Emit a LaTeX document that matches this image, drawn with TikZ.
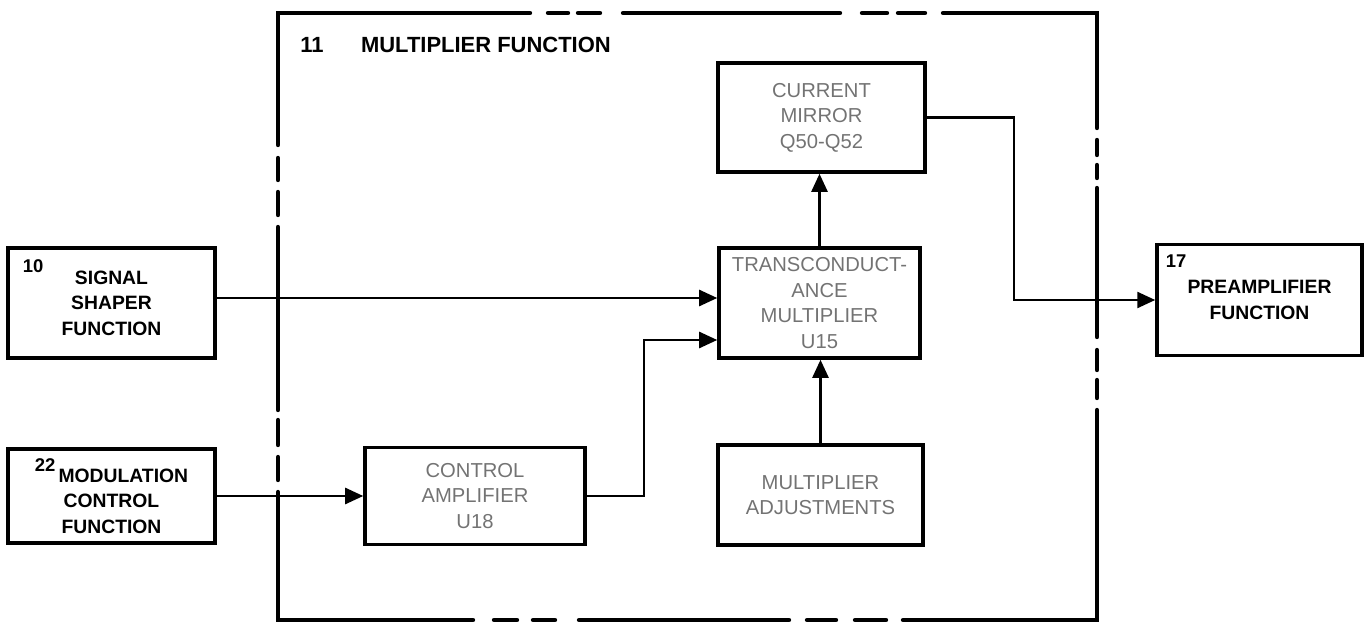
\documentclass[tikz,border=0pt]{standalone}
\usepackage{fontspec}
\setmainfont{Liberation Sans}
\usepackage{tikz}
\usetikzlibrary{arrows.meta}

\begin{document}
\begin{tikzpicture}[x=0.2mm,y=-0.2mm,>={Triangle[length=3.6mm,width=3.2mm]},
  outerbox/.style={rectangle,draw=black,line width=2pt,align=center,inner sep=0pt,font=\fontsize{11}{14.5}\selectfont\bfseries},
  innerbox/.style={rectangle,draw=black,line width=2pt,align=center,inner sep=0pt,text=black!55,font=\fontsize{11.5}{14.5}\selectfont},
  numlbl/.style={inner sep=0pt,font=\fontsize{10.5}{12}\selectfont\bfseries},
  conn/.style={->,line width=1.4pt},
  frame/.style={line width=2.5pt,line cap=round}]
\useasboundingbox (0,0) rectangle (1368,627);

% multiplier function frame
\draw[frame] (278,145) |- (530,13);
\draw[frame] (623,13) -- (840,13);
\draw[frame] (943,13) -| (1097,128);
\draw[frame] (1097,188) -- (1097,337);
\draw[frame] (1097,410) |- (903,620);
\draw[frame] (789,620) -- (579,620);
\draw[frame] (473,620) -| (278,492);
\draw[frame] (278,410) -- (278,227);
\foreach \a/\b in {548/568,578/600,862/887,898/925} \draw[frame] (\a,13) -- (\b,13);
\foreach \a/\b in {140/155,165/178,350/370,380/398} \draw[frame] (1097,\a) -- (1097,\b);
\foreach \a/\b in {886/855,836/807,555/533,517/494} \draw[frame] (\a,620) -- (\b,620);
\foreach \a/\b in {480/457,445/420,215/192,180/158} \draw[frame] (278,\a) -- (278,\b);
\node[anchor=west,inner sep=0pt,font=\fontsize{12.5}{14}\selectfont\bfseries] (ttl) at (300,45) {11\hspace{7.5mm}MULTIPLIER FUNCTION};

% outside functions
\node[outerbox,minimum width=41.4mm,minimum height=22mm] (sig) at (111.5,303) {SIGNAL\\SHAPER\\FUNCTION};
\node[numlbl] (n10) at ([shift={(5.4mm,-4mm)}]sig.north west) {10};
\node[outerbox,minimum width=41.4mm,minimum height=18.8mm] (mod) at (111.5,496) {\raisebox{1.1ex}{\fontsize{10.5}{12}\selectfont 22}\,MODULATION\\CONTROL\\FUNCTION};
\node[outerbox,minimum width=41mm,minimum height=22.2mm] (pre) at (1259.5,300) {PREAMPLIFIER\\FUNCTION};
\node[numlbl] (n17) at ([shift={(4.2mm,-3.6mm)}]pre.north west) {17};

% inside blocks
\node[innerbox,minimum width=41.4mm,minimum height=21.8mm] (mirror) at (821.5,117.5) {CURRENT\\MIRROR\\Q50-Q52};
\node[innerbox,minimum width=40.2mm,minimum height=22mm] (tc) at (819.5,303) {TRANSCONDUCT-\\ANCE\\MULTIPLIER\\U15};
\node[innerbox,minimum width=44mm,minimum height=19.4mm] (ctrl) at (475,496) {CONTROL\\AMPLIFIER\\U18};
\node[innerbox,minimum width=41mm,minimum height=20mm] (adj) at (820.5,495) {MULTIPLIER\\ADJUSTMENTS};

% signal paths
\draw[conn] (sig.east |- 0,298) -- (tc.west |- 0,298);
\draw[conn] (mod.east) -- (ctrl.west);
\draw[conn] (ctrl.east) -- ++(57,0) |- ([yshift=-7.4mm]tc.west);
\draw[conn] (adj.north) -- (adj.north |- tc.south);
\draw[conn] (tc.north) -- (tc.north |- mirror.south);
\draw[conn] (mirror.east) -- ++(87,0) |- (pre.west);
\end{tikzpicture}
\end{document}
